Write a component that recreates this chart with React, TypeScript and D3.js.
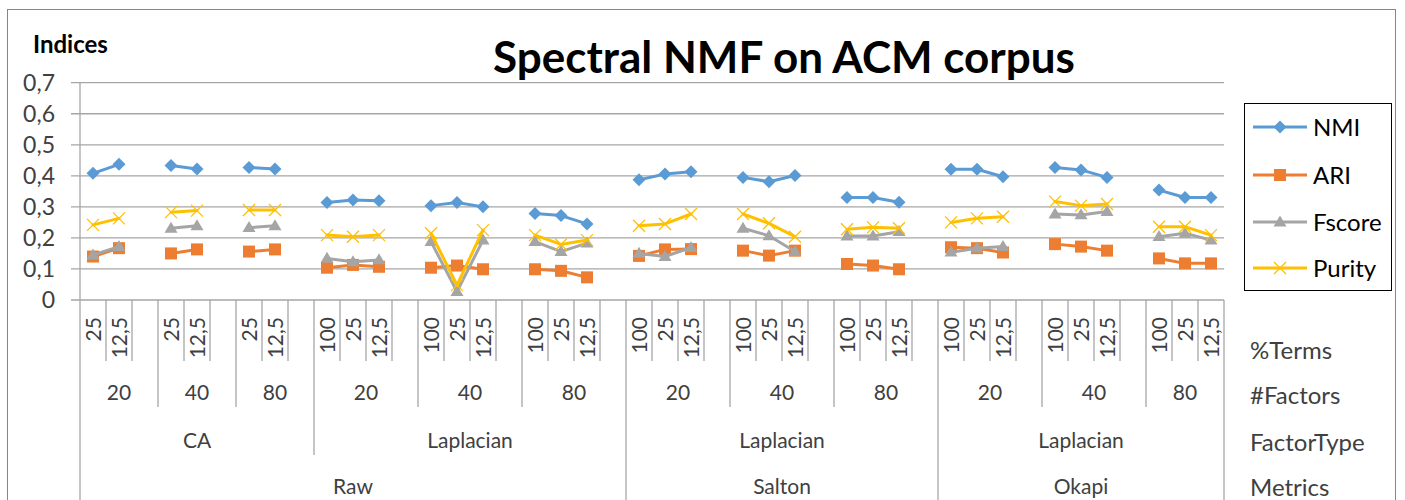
import React from "react";
import * as d3 from "d3";

// ---------- data ----------
const title = "Spectral NMF on ACM corpus";
const yTitle = "Indices";
const yTicks = [0, 0.1, 0.2, 0.3, 0.4, 0.5, 0.6, 0.7];
const levelNames = ["%Terms", "#Factors", "FactorType", "Metrics"];

type FactorGroup = { f: string; terms: string[] };
type TypeGroup = { type: string; factors: FactorGroup[] };
type MetricGroup = { metric: string; types: TypeGroup[] };

const termsCA = ["25", "12,5"];
const termsLap = ["100", "25", "12,5"];
const hierarchy: MetricGroup[] = [
  {
    metric: "Raw",
    types: [
      { type: "CA", factors: [{ f: "20", terms: termsCA }, { f: "40", terms: termsCA }, { f: "80", terms: termsCA }] },
      { type: "Laplacian", factors: [{ f: "20", terms: termsLap }, { f: "40", terms: termsLap }, { f: "80", terms: termsLap }] },
    ],
  },
  {
    metric: "Salton",
    types: [{ type: "Laplacian", factors: [{ f: "20", terms: termsLap }, { f: "40", terms: termsLap }, { f: "80", terms: termsLap }] }],
  },
  {
    metric: "Okapi",
    types: [{ type: "Laplacian", factors: [{ f: "20", terms: termsLap }, { f: "40", terms: termsLap }, { f: "80", terms: termsLap }] }],
  },
];

const seriesNames = ["NMI", "ARI", "Fscore", "Purity"];
const seriesColors = ["#5B9BD5", "#ED7D31", "#A5A5A5", "#FFC000"];
const nmi = [
  0.408, 0.437, 0.433, 0.422, 0.427, 0.422,
  0.314, 0.322, 0.320, 0.304, 0.314, 0.300, 0.279, 0.272, 0.245,
  0.387, 0.406, 0.413, 0.395, 0.381, 0.401, 0.330, 0.330, 0.315,
  0.421, 0.421, 0.397, 0.427, 0.419, 0.395, 0.354, 0.330, 0.330,
];
const ari = [
  0.140, 0.167, 0.150, 0.163, 0.156, 0.163,
  0.104, 0.113, 0.107, 0.104, 0.111, 0.099, 0.099, 0.094, 0.073,
  0.142, 0.163, 0.164, 0.159, 0.143, 0.159, 0.116, 0.111, 0.099,
  0.170, 0.167, 0.153, 0.180, 0.172, 0.159, 0.134, 0.118, 0.118,
];
const fscore = [
  0.145, 0.172, 0.231, 0.239, 0.233, 0.239,
  0.134, 0.123, 0.129, 0.188, 0.027, 0.193, 0.188, 0.156, 0.183,
  0.150, 0.140, 0.169, 0.231, 0.207, 0.156, 0.206, 0.206, 0.220,
  0.154, 0.167, 0.172, 0.277, 0.274, 0.285, 0.204, 0.215, 0.193,
];
const purity = [
  0.242, 0.263, 0.283, 0.288, 0.290, 0.290,
  0.209, 0.204, 0.209, 0.215, 0.048, 0.225, 0.209, 0.179, 0.193,
  0.239, 0.245, 0.277, 0.277, 0.247, 0.204, 0.228, 0.234, 0.231,
  0.250, 0.263, 0.268, 0.317, 0.304, 0.309, 0.236, 0.236, 0.209,
];
const seriesValues = [nmi, ari, fscore, purity];

// ---------- build slots ----------
type Slot = { term: string; dataIndex: number | null };
const slots: Slot[] = [];
const factorSpans: { label: string; start: number; end: number }[] = [];
const typeSpans: { label: string; start: number; end: number }[] = [];
const metricSpans: { label: string; start: number; end: number }[] = [];
{
  let di = 0;
  const totalFactorGroups = d3.sum(hierarchy, (m) => d3.sum(m.types, (t) => t.factors.length));
  let fg = 0;
  hierarchy.forEach((m) => {
    const ms = slots.length;
    m.types.forEach((t) => {
      const ts = slots.length;
      t.factors.forEach((f) => {
        const fs = slots.length;
        f.terms.forEach((term) => slots.push({ term, dataIndex: di++ }));
        fg++;
        if (fg < totalFactorGroups) slots.push({ term: "", dataIndex: null });
        factorSpans.push({ label: f.f, start: fs, end: slots.length });
      });
      typeSpans.push({ label: t.type, start: ts, end: slots.length });
    });
    metricSpans.push({ label: m.metric, start: ms, end: slots.length });
  });
}

// ---------- layout ----------
const W = 1405;
const H = 500;
const plotLeft = 80;
const plotRight = 1224;
const plotTop = 82.7;
const plotBottom = 300;
const font = "Lato, 'Open Sans', sans-serif";
const gridColor = "#A6A6A6";
const textColor = "#404040";

const x = d3
  .scaleBand<number>()
  .domain(d3.range(slots.length))
  .range([plotLeft, plotRight])
  .paddingInner(0)
  .paddingOuter(0);
const bw = x.bandwidth();
const cx = (i: number) => (x(i) as number) + bw / 2;
const y = d3.scaleLinear().domain([0, 0.7]).range([plotBottom, plotTop]);
const fmt = (v: number) => d3.format(".1~f")(v).replace(".", ",");
const spanCenter = (s: { start: number; end: number }) => ((x(s.start) as number) + (x(s.end - 1) as number) + bw) / 2;

function boundaryBottom(b: number): number {
  if (b === 0 || b === slots.length) return H + 10;
  if (metricSpans.some((s) => s.start === b)) return H + 10;
  if (typeSpans.some((s) => s.start === b)) return 455;
  if (factorSpans.some((s) => s.start === b)) return 407;
  return 361;
}

function Marker({ kind, px, py, color }: { kind: number; px: number; py: number; color: string }) {
  if (kind === 0) {
    const r = 6.5;
    return <path d={`M${px},${py - r}L${px + r},${py}L${px},${py + r}L${px - r},${py}Z`} fill={color} />;
  }
  if (kind === 1) {
    const s = 12;
    return <rect x={px - s / 2} y={py - s / 2} width={s} height={s} fill={color} />;
  }
  if (kind === 2) {
    const s = 13;
    const h = 11;
    return <path d={`M${px},${py - h * 0.6}L${px + s / 2},${py + h * 0.4}L${px - s / 2},${py + h * 0.4}Z`} fill={color} />;
  }
  const r = 6;
  return (
    <path
      d={`M${px - r},${py - r}L${px + r},${py + r}M${px + r},${py - r}L${px - r},${py + r}`}
      stroke={color}
      strokeWidth={1.3}
      fill="none"
    />
  );
}

export default function App() {
  return (
    <svg
      width={W}
      height={H}
      style={{ position: "absolute", left: 0, top: 0, background: "#fff" }}
      fontFamily={font}
    >
      <rect x={0} y={0} width={W} height={H} fill="#fff" />
      <rect x={7.5} y={9.5} width={1388} height={H + 20} fill="none" stroke="#868686" strokeWidth={1} />

      {/* title */}
      <text x={784} y={73} textAnchor="middle" fontSize={44} fontWeight={700} fill="#000">
        {title}
      </text>
      <text x={33} y={53} fontSize={24} fontWeight={700} fill="#000">
        {yTitle}
      </text>

      {/* gridlines + y labels */}
      {yTicks.map((t) => (
        <g key={t}>
          <line x1={71} x2={plotRight} y1={y(t)} y2={y(t)} stroke={gridColor} strokeWidth={1.3} />
          <text x={55} y={y(t)} dy="0.36em" textAnchor="end" fontSize={23} fill={textColor}>
            {fmt(t)}
          </text>
        </g>
      ))}
      <line x1={plotLeft} x2={plotLeft} y1={plotTop} y2={plotBottom} stroke={gridColor} strokeWidth={1.3} />

      {/* category separators */}
      {d3.range(slots.length + 1).map((b) => {
        const xx = b === slots.length ? plotRight : (x(b) as number);
        return <line key={b} x1={xx} x2={xx} y1={plotBottom} y2={boundaryBottom(b)} stroke={gridColor} strokeWidth={1.3} />;
      })}

      {/* %Terms labels */}
      {slots.map((s, i) =>
        s.term ? (
          <text
            key={i}
            transform={`translate(${cx(i)},${317}) rotate(-90)`}
            textAnchor="end"
            dy="0.36em"
            fontSize={21}
            fill={textColor}
          >
            {s.term}
          </text>
        ) : null
      )}
      {factorSpans.map((s, i) => (
        <text key={i} x={spanCenter(s)} y={392} dy="0.36em" textAnchor="middle" fontSize={21} fill={textColor}>
          {s.label}
        </text>
      ))}
      {typeSpans.map((s, i) => (
        <text key={i} x={spanCenter(s)} y={440} dy="0.36em" textAnchor="middle" fontSize={21} fill={textColor}>
          {s.label}
        </text>
      ))}
      {metricSpans.map((s, i) => (
        <text key={i} x={spanCenter(s)} y={486} dy="0.36em" textAnchor="middle" fontSize={21} fill={textColor}>
          {s.label}
        </text>
      ))}
      {levelNames.map((n, i) => (
        <text key={n} x={1250} y={[350, 395, 442, 487][i]} dy="0.36em" fontSize={24} fill={textColor}>
          {n}
        </text>
      ))}

      {/* series */}
      {seriesValues.map((vals, si) => {
        const g = d3
          .line<Slot>()
          .defined((s) => s.dataIndex !== null)
          .x((s) => cx(slots.indexOf(s)))
          .y((s) => y(vals[s.dataIndex as number]));
        return (
          <g key={si}>
            <path d={g(slots) || ""} fill="none" stroke={seriesColors[si]} strokeWidth={3} strokeLinejoin="round" strokeLinecap="round" />
            {slots.map((s, i) =>
              s.dataIndex !== null ? (
                <Marker key={i} kind={si} px={cx(i)} py={y(vals[s.dataIndex])} color={seriesColors[si]} />
              ) : null
            )}
          </g>
        );
      })}

      {/* legend */}
      <rect x={1244.5} y={103.5} width={147} height={187} fill="#fff" stroke="#000" strokeWidth={1} />
      {seriesNames.map((n, i) => {
        const ly = [127, 175, 222, 268][i];
        return (
          <g key={n}>
            <line x1={1253} x2={1307} y1={ly} y2={ly} stroke={seriesColors[i]} strokeWidth={3} />
            <Marker kind={i} px={1280} py={ly} color={seriesColors[i]} />
            <text x={1313} y={ly} dy="0.36em" fontSize={24} fill="#000">
              {n}
            </text>
          </g>
        );
      })}
    </svg>
  );
}
